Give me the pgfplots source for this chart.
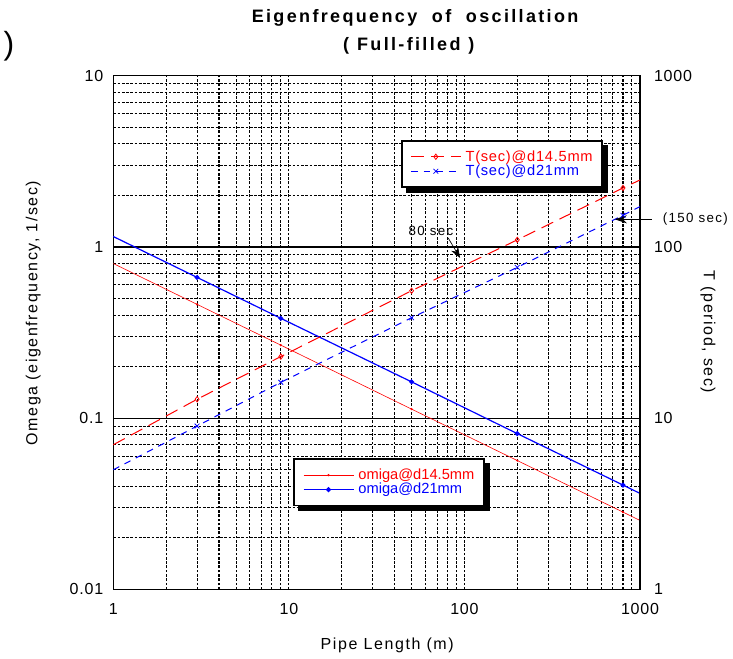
\documentclass[border=0pt]{standalone}
\usepackage{fontspec}
\setmainfont{Liberation Sans}
\newfontfamily\titlefont[LetterSpace=13]{Liberation Sans}
\newfontfamily\labfont[LetterSpace=10]{Liberation Sans}
\newfontfamily\legfont[LetterSpace=5]{Liberation Sans}
\newfontfamily\tickfont[LetterSpace=5]{Liberation Sans}
\usepackage{pgfplots}
\pgfplotsset{compat=1.18}
\usetikzlibrary{arrows.meta}
\definecolor{myred}{RGB}{255,0,0}
\definecolor{myblue}{RGB}{0,0,255}
\begin{document}
\begin{tikzpicture}
\useasboundingbox (-85pt,-51.4pt) rectangle (464.75pt,442.1pt);
% ---------- left axis: omega ----------
\begin{axis}[
  scale only axis, width=395pt, height=385.35pt,
  xmode=log, ymode=log, xmin=1, xmax=1000,
  ymin=0.01, ymax=10,
  major tick length=0pt, minor tick length=0pt,
  /pgf/number format/assume math mode=true,
  tick label style={font=\tickfont\fontsize{12}{14}\selectfont},
  xticklabel style={yshift=-7pt},
  yticklabel style={xshift=-4pt},
  axis line style={line width=1pt, black},
  clip=false,
  xtick={1,10,100,1000}, xticklabels={1,10,100,1000},
  ytick={0.01,0.1,1,10}, yticklabels={0.01,0.1,1,10},
  minor xtick={2,3,4,5,6,7,8,9,20,30,40,50,60,70,80,90,200,300,400,500,600,700,800,900},
  minor ytick={0.02,0.03,0.04,0.05,0.06,0.07,0.08,0.09,0.2,0.3,0.4,0.5,0.6,0.7,0.8,0.9,2,3,4,5,6,7,8,9},
  xmajorgrids, ymajorgrids, xminorgrids, yminorgrids,
  major x grid style={black, line width=0.8pt, dash pattern=on 2pt off 1.2pt},
  major y grid style={black, line width=1pt, solid},
  minor x grid style={black, line width=0.8pt, dash pattern=on 2pt off 1.2pt},
  minor y grid style={black, line width=0.8pt, dash pattern=on 2pt off 1.2pt},
  legend image code/.code={%
    \draw[#1,mark=none] (0pt,0pt) -- (37.5pt,0pt);
    \draw[#1,mark indices={1}] plot coordinates {(18.75pt,0pt)};},
  legend cell align=left,
  legend style={at={(0.3418,0.2554)}, anchor=north west, name=legB,
    draw=black, line width=1.4pt, fill=white,
    font=\fontsize{11}{12}\selectfont,
    inner xsep=6.5pt, inner ysep=6.5pt, nodes={inner sep=0.7pt}, row sep=0pt, column sep=2.5pt},
]
\addplot[myred, line width=0.45pt, mark=*, mark size=0.6pt, mark indices={2,3,4,5,6}]
  coordinates {(1,0.80) (3,0.462) (9,0.267) (50,0.113) (200,0.0566) (800,0.0283) (1000,0.0253)};
\addlegendentry{\textcolor{myred}{omiga@d14.5mm}}
\addplot[myblue, line width=0.9pt, mark=*, mark size=1.4pt, mark indices={2,3,4,5,6}]
  coordinates {(1,1.15) (3,0.664) (9,0.383) (50,0.163) (200,0.0813) (800,0.0407) (1000,0.0364)};
\addlegendentry{\textcolor{myblue}{omiga@d21mm}}
\node[rotate=90, font=\labfont\fontsize{12}{14}\selectfont] at (rel axis cs:-0.152,0.538) {Omega (eigenfrequency, 1/sec)};
\node[font=\labfont\fontsize{12}{14}\selectfont] at (rel axis cs:0.52,-0.108) {Pipe Length (m)};
\node[font=\titlefont\bfseries\fontsize{13.5}{15}\selectfont] at (rel axis cs:0.573,1.112) {Eigenfrequency \ of \ oscillation};
\node[font=\titlefont\bfseries\fontsize{13.5}{15}\selectfont] at (rel axis cs:0.561,1.058) {(\hspace{6pt}Full-filled\hspace{6pt})};
\node[font=\rmfamily\fontsize{24}{26}\selectfont] at (rel axis cs:-0.198,1.058) {)};
\end{axis}
\fill[black] ([shift={(0pt,-3.75pt)}]legB.north east) rectangle ([shift={(3.75pt,-3.75pt)}]legB.south east);
\fill[black] ([shift={(3.75pt,0pt)}]legB.south west) rectangle ([shift={(3.75pt,-3.75pt)}]legB.south east);
% ---------- right axis: period ----------
\begin{axis}[
  scale only axis, width=395pt, height=385.35pt,
  xmode=log, ymode=log, xmin=1, xmax=1000,
  ymin=1, ymax=1000,
  major tick length=0pt, minor tick length=0pt,
  /pgf/number format/assume math mode=true,
  tick label style={font=\tickfont\fontsize{12}{14}\selectfont},
  axis line style={line width=1.2pt, black},
  clip=false,
  axis x line=none, axis y line*=right,
  ytick={1,10,100,1000}, yticklabels={1,10,100,1000},
  yticklabel style={anchor=west, xshift=7pt},
  legend image code/.code={%
    \draw[#1,mark=none] (0pt,0pt) -- (37.5pt,0pt);
    \draw[#1,mark indices={1}] plot coordinates {(18.75pt,0pt)};},
  legend cell align=left,
  legend style={at={(0.5457,0.875)}, anchor=north west, name=legA,
    draw=black, line width=1.4pt, fill=white,
    font=\legfont\fontsize{11}{12}\selectfont,
    inner xsep=6.5pt, inner ysep=6.5pt, nodes={inner sep=0.7pt}, row sep=0pt, column sep=2.5pt},
]
\addplot[myred, line width=0.75pt, dash pattern=on 9.75pt off 5.25pt, mark=diamond, mark size=2pt,
  mark options={solid, fill=white, line width=0.6pt}, mark indices={2,3,4,5,6}]
  coordinates {(1,7.0) (3,12.9) (9,22.9) (50,55.5) (200,110) (800,221) (1000,246)};
\addlegendentry{\textcolor{myred}{T(sec)@d14.5mm}}
\addplot[myblue, line width=0.75pt, dash pattern=on 5pt off 4.5pt, mark=x, mark size=2.5pt,
  mark options={solid, line width=0.6pt}, mark indices={2,3,4,5,6}]
  coordinates {(1,5.0) (3,9.0) (9,16.2) (50,38.6) (200,76) (800,153) (1000,172)};
\addlegendentry{\textcolor{myblue}{T(sec)@d21mm}}
\node[rotate=-90, font=\labfont\fontsize{12}{14}\selectfont] at (rel axis cs:1.129,0.501) {T (period, sec)};
\node[font=\labfont\fontsize{10}{11}\selectfont] at (axis cs:64.5,124.5) {80 sec};
\draw[black, line width=0.5pt, -{Stealth[length=8pt,width=6pt]}] (axis cs:80.7,113) -- (axis cs:94.4,86.3);
\draw[black, line width=0.5pt, -{Stealth[length=9pt,width=6pt]}] (axis cs:1165,145) -- (axis cs:719,145);
\node[anchor=west, font=\labfont\fontsize{10}{11}\selectfont] at (axis cs:1270,145) {(150 sec)};
\end{axis}
\fill[black] ([shift={(0pt,-3.75pt)}]legA.north east) rectangle ([shift={(3.75pt,-3.75pt)}]legA.south east);
\fill[black] ([shift={(3.75pt,0pt)}]legA.south west) rectangle ([shift={(3.75pt,-3.75pt)}]legA.south east);
\end{tikzpicture}
\end{document}
